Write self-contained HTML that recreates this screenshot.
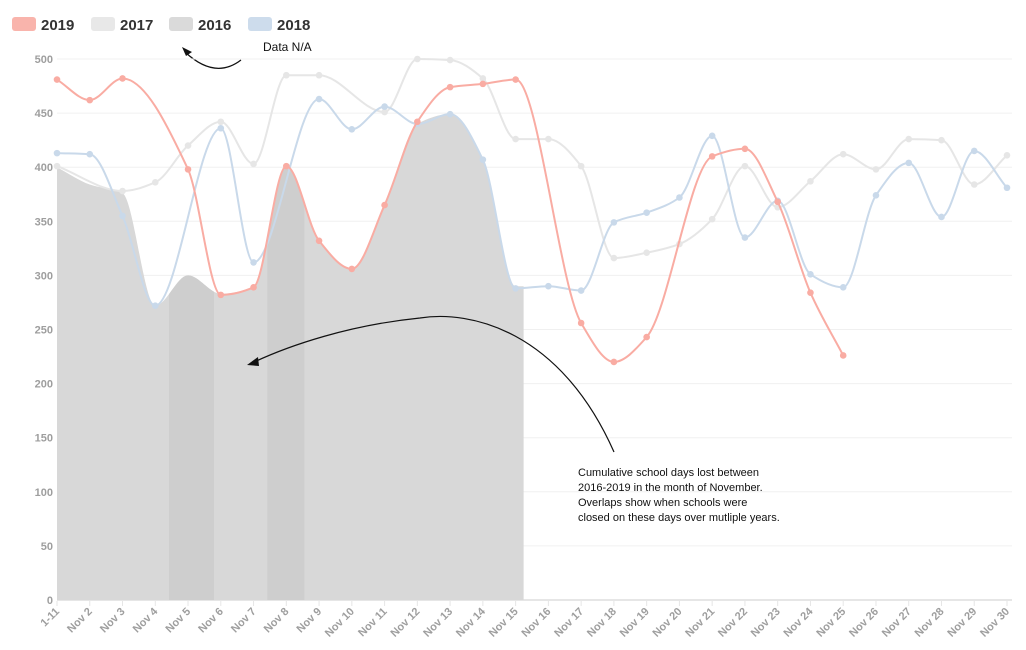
<!DOCTYPE html>
<html><head><meta charset="utf-8"><style>
body{margin:0;background:#fff;font-family:"Liberation Sans",sans-serif}
svg{display:block}
.tk{font-weight:bold;font-size:11px;fill:#9e9e9e}
.lg{font-weight:bold;font-size:15px;fill:#333}
</style></head><body>
<svg id="c" width="1026" height="650">
<g id="legend">
<rect x="12" y="17" width="24" height="14" rx="3" fill="#f9b4ac"/>
<text x="41" y="30" class="lg">2019</text>
<rect x="91" y="17" width="24" height="14" rx="3" fill="#e8e8e8"/>
<text x="120" y="30" class="lg">2017</text>
<rect x="169" y="17" width="24" height="14" rx="3" fill="#dadada"/>
<text x="198" y="30" class="lg">2016</text>
<rect x="248" y="17" width="24" height="14" rx="3" fill="#cddcec"/>
<text x="277" y="30" class="lg">2018</text>
</g>
<text x="263" y="51" font-size="12" fill="#111">Data N/A</text>
<path d="M241,60 Q215,80 185,52" fill="none" stroke="#111" stroke-width="1.2"/>
<path d="M182,47 L192,52 L186,56 Z" fill="#111"/>
<g id="grid"></g><g id="area"></g><g id="lines"></g><g id="axes"></g>
<path d="M614,452 C560,330 470,310 420,318 C350,325 290,345 252,363" fill="none" stroke="#111" stroke-width="1.2"/>
<path d="M247,365 L258,357 L259,366 Z" fill="#111"/>
<text font-size="11" fill="#111">
<tspan x="578" y="476">Cumulative school days lost between</tspan>
<tspan x="578" y="491">2016-2019 in the month of November.</tspan>
<tspan x="578" y="506">Overlaps show when schools were</tspan>
<tspan x="578" y="521">closed on these days over mutliple years.</tspan>
</text>
</svg>
<script>
const categories=["1-11","Nov 2","Nov 3","Nov 4","Nov 5","Nov 6","Nov 7","Nov 8","Nov 9","Nov 10","Nov 11","Nov 12","Nov 13","Nov 14","Nov 15","Nov 16","Nov 17","Nov 18","Nov 19","Nov 20","Nov 21","Nov 22","Nov 23","Nov 24","Nov 25","Nov 26","Nov 27","Nov 28","Nov 29","Nov 30"];
const yTicks=[0,50,100,150,200,250,300,350,400,450,500];
const s2016=[400,384,376,272,300,283,289,401,333,306,365,440,449,407,290];
const s2017=[401,null,378,386,420,442,403,485,485,null,451,500,499,482,426,426,401,316,321,329,352,401,363,387,412,398,426,425,384,411];
const s2018=[413,412,355,272,null,436,312,null,463,435,456,440,449,407,288,290,286,349,358,372,429,335,369,301,289,374,404,354,415,381];
const s2019=[481,462,482,null,398,282,289,401,332,306,365,442,474,477,481,null,256,220,243,null,410,417,368,284,226];
const overlapDays=[4,7];
const NS="http://www.w3.org/2000/svg";
const X0=57,X1=1007,Y0=600,Y500=59;
const x=i=>X0+i*(X1-X0)/(categories.length-1);
const y=v=>Y0-v*(Y0-Y500)/500;
function el(t,a,p){const e=document.createElementNS(NS,t);for(const k in a)e.setAttribute(k,a[k]);document.getElementById(p).appendChild(e);return e;}
function spline(pts){
const n=pts.length;if(n<2)return "";
const s=[],m=[];
for(let i=0;i<n-1;i++)s.push((pts[i+1][1]-pts[i][1])/(pts[i+1][0]-pts[i][0]));
for(let i=0;i<n;i++){
if(i===0)m.push(s[0]);else if(i===n-1)m.push(s[n-2]);
else{const a=s[i-1],b=s[i];if(a*b<=0)m.push(0);else{const h0=pts[i][0]-pts[i-1][0],h1=pts[i+1][0]-pts[i][0];m.push(3*(h0+h1)/((2*h1+h0)/a+(h1+2*h0)/b));}}}
let d="M"+pts[0][0]+","+pts[0][1];
for(let i=0;i<n-1;i++){const h=(pts[i+1][0]-pts[i][0])/3;
d+=" C"+(pts[i][0]+h)+","+(pts[i][1]+m[i]*h)+" "+(pts[i+1][0]-h)+","+(pts[i+1][1]-m[i+1]*h)+" "+pts[i+1][0]+","+pts[i+1][1];}
return d;}
yTicks.forEach(v=>{
const g=el("line",{x1:X0,x2:X1+5,y1:y(v),y2:y(v),stroke:v===0?"#e6e6e6":"#f0f0f0","stroke-width":v===0?2:1},"grid");


const t=el("text",{x:53,y:y(v)+4,"text-anchor":"end",class:"tk"},"axes");t.textContent=v;


});
categories.forEach((c,i)=>{
const l=el("line",{x1:x(i),x2:x(i),y1:601,y2:606,stroke:"#e6e6e6"},"axes");


const t=el("text",{x:x(i)+3,y:612,"text-anchor":"end",class:"tk",transform:"rotate(-45 "+(x(i)+3)+" 612)"},"axes");t.textContent=c;


});
const ap=s2016.map((v,i)=>[x(i),y(v)]);
const lastX=x(s2016.length-1)+8;
ap.push([lastX,y(s2016[s2016.length-1])]);
const ad=spline(ap)+" L"+lastX+","+Y0+" L"+X0+","+Y0+" Z";
const area=el("path",{d:ad,fill:"#d8d8d8"},"area");


const cp=el("clipPath",{id:"ac"},"area");
const cpp=document.createElementNS(NS,"path");cpp.setAttribute("d",ad);cp.appendChild(cpp);
overlapDays.forEach(i=>{
const r=el("rect",{x:x(i)-19,y:0,width:i===4?45:37,height:Y0,fill:"#cecece","clip-path":"url(#ac)"},"area");


});
function series(data,color,name){
const pts=[];data.forEach((v,i)=>{if(v!==null)pts.push([x(i),y(v)]);});
const p=el("path",{d:spline(pts),fill:"none",stroke:color,"stroke-width":2},"lines");


pts.forEach(q=>{const c=el("circle",{cx:q[0],cy:q[1],r:3.3,fill:color},"lines");

});
}
series(s2017,"#e6e6e6","2017");
series(s2018,"#c9d9ea","2018");
series(s2019,"#f9aca3","2019");
</script>
</body></html>
